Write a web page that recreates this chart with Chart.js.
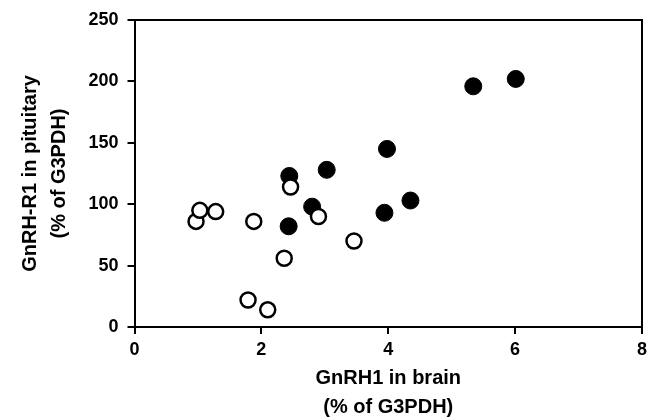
<!DOCTYPE html>
<html>
<head>
<meta charset="utf-8">
<script src="https://cdn.jsdelivr.net/npm/chart.js@4/dist/chart.umd.min.js"></script>
<style>
  html, body { margin: 0; padding: 0; background: #fff; }
  #wrap { width: 653px; height: 418px; }
</style>
</head>
<body>
<div id="wrap"><canvas id="scatter-Chart"></canvas></div>
<script>
// brain GnRH1 (x) vs pituitary GnRH-R1 (y), both % of G3PDH
const openX = [2.46, 0.97, 1.03, 1.28, 1.88, 2.90, 3.46, 2.36, 1.79, 2.10];
const openY = [114, 86, 95, 94, 86, 90, 70, 56, 22, 14];
const filledX = [2.44, 3.03, 3.98, 5.34, 6.01, 4.35, 3.94, 2.80, 2.43];
const filledY = [123, 128, 145, 196, 202, 103, 93, 98, 82];

const xTicks = [0, 2, 4, 6, 8];
const yTicks = [0, 50, 100, 150, 200, 250];

const toPoints = (xs, ys) => xs.map((x, i) => ({ x: x, y: ys[i] }));

const frame = {
  id: "frame",
  afterDatasetsDraw(chart) {
    const a = chart.chartArea;
    const c = chart.ctx;
    c.save();
    c.strokeStyle = "#000";
    c.lineWidth = 2;
    c.beginPath();
    c.moveTo(a.left, a.top);
    c.lineTo(a.right, a.top);
    c.lineTo(a.right, a.bottom);
    c.stroke();
    c.restore();
  },
};

document.addEventListener("DOMContentLoaded", () => {
  const ctx = document.getElementById("scatter-Chart");
  if (!ctx) {
    console.error("Canvas element not found");
    return;
  }
  const family = "Liberation Sans, Arial, sans-serif";
  const tickFont = { family: family, weight: "bold", size: 18 };
  const titleFont = { family: family, weight: "bold", size: 20, lineHeight: 1.45 };
  new Chart(ctx, {
    type: "scatter",
    data: {
      datasets: [
        {
          data: toPoints(openX, openY),
          backgroundColor: "#fff",
          borderColor: "#000",
          borderWidth: 2.5,
          pointRadius: 7.5,
        },
        {
          data: toPoints(filledX, filledY),
          backgroundColor: "#000",
          borderColor: "#000",
          borderWidth: 1,
          pointRadius: 8.5,
        },
      ],
    },
    options: {
      responsive: true,
      maintainAspectRatio: false,
      animation: false,
      layout: { padding: { top: 20, right: 11, left: 0, bottom: 0 } },
      plugins: { legend: { display: false }, tooltip: { enabled: false } },
      scales: {
        x: {
          type: "linear",
          min: 0,
          max: 8,
          afterBuildTicks: (s) => { s.ticks = xTicks.map((v) => ({ value: v })); },
          afterFit: (s) => { s.height = 91; },
          grid: { drawOnChartArea: false, drawTicks: true, tickLength: 7, color: "#000", lineWidth: 2 },
          border: { color: "#000", width: 2 },
          ticks: { color: "#000", font: tickFont, padding: 5 },
          title: {
            display: true,
            text: ["GnRH1 in brain", "(% of G3PDH)"],
            color: "#000",
            font: titleFont,
            padding: { top: 0, bottom: -4 },
          },
        },
        y: {
          type: "linear",
          min: 0,
          max: 250,
          afterBuildTicks: (s) => { s.ticks = yTicks.map((v) => ({ value: v })); },
          afterFit: (s) => { s.width = 134.5; },
          grid: { drawOnChartArea: false, drawTicks: true, tickLength: 7, color: "#000", lineWidth: 2 },
          border: { color: "#000", width: 2 },
          ticks: { color: "#000", font: tickFont, padding: 9 },
          title: {
            display: true,
            text: ["GnRH-R1 in pituitary", "(% of G3PDH)"],
            color: "#000",
            font: titleFont,
            padding: { top: 16, bottom: 0 },
          },
        },
      },
    },
    plugins: [frame],
  });
});
</script>
</body>
</html>
